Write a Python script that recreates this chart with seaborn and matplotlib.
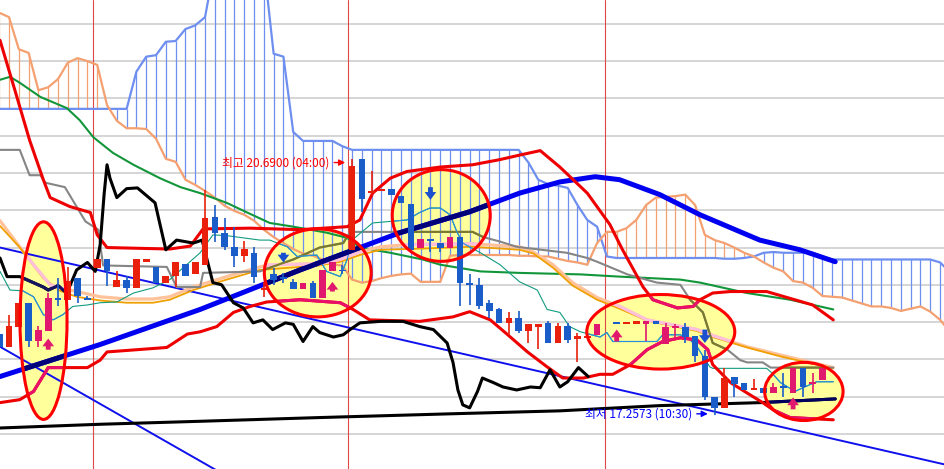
import numpy as np
import pandas as pd
import matplotlib
matplotlib.use("Agg")
import matplotlib.pyplot as plt
from matplotlib.patches import Ellipse
import seaborn as sns

sns.set_theme(style="white")
plt.rcParams['font.family'] = ['Noto Sans CJK KR', 'DejaVu Sans']

# ---- candles, bar index 0..84 ----
opens = [18.34, 18.17, 18.44, 18.75, 18.25, 18.38, 18.81, 18.80, 19.09, 18.81,
         19.22, 19.34, 18.97, 19.07, 18.96, 19.31, 19.24, 19.03, 19.12, 19.28,
         19.15, 19.27, 19.91, 19.70, 19.51, 19.38, 19.43, 18.93, 19.15, 19.09,
         19.04, 18.95, 19.03, 18.83, 19.19, 19.19, 19.47, 20.69, 20.23, 20.26,
         20.29, 20.19, 20.09, 19.50, 19.62, 19.56, 19.50, 19.64, 19.03, 19.00,
         18.76, 18.67, 18.49, 18.55, 18.38, 18.44, 18.49, 18.22, 18.45, 18.28,
         18.29, 18.33, np.nan, 18.49, 18.48, 18.48, 18.47, 18.51, 18.20, 18.42,
         18.44, 18.32, 18.05, 17.50, 17.35, 17.77, 17.69, 17.59, 17.62, 17.55,
         17.63, 17.55, 17.89, 17.67, 17.73]
highs = [18.36, 18.60, 18.75, 18.75, 18.45, 18.89, 19.09, 19.24, 19.09, 18.85,
         19.34, 19.34, 19.18, 19.12, 19.34, 19.34, 19.24, 19.12, 19.30, 19.28,
         19.30, 20.27, 20.07, 19.90, 19.78, 19.59, 19.51, 19.04, 19.22, 19.16,
         19.08, 19.03, 19.05, 19.20, 19.30, 19.27, 20.69, 20.69, 20.52, 20.27,
         20.29, 20.19, 20.09, 19.62, 19.62, 19.56, 19.64, 19.64, 19.14, 19.09,
         18.79, 18.69, 18.63, 18.65, 18.48, 18.48, 18.51, 18.49, 18.49, 18.36,
         18.32, 18.47, np.nan, 18.49, 18.49, 18.51, 18.51, 18.51, 18.49, 18.48,
         18.49, 18.32, 18.12, 17.50, 17.88, 17.77, 17.69, 17.74, 17.62, 17.69,
         17.82, 17.89, 17.89, 17.82, 17.89]
lows = [18.15, 18.17, 18.44, 18.17, 18.17, 18.38, 18.72, 18.80, 18.75, 18.80,
        19.22, 18.99, 18.97, 18.89, 18.96, 19.30, 19.03, 19.03, 18.97, 19.12,
        19.15, 19.27, 19.58, 19.47, 19.24, 19.30, 19.03, 18.84, 19.00, 19.03,
        18.95, 18.95, 18.83, 18.83, 19.19, 19.14, 19.47, 19.98, 20.21, 20.26,
        20.21, 20.10, 19.47, 19.50, 19.44, 19.44, 19.50, 18.72, 18.73, 18.67,
        18.55, 18.49, 18.33, 18.36, 18.22, 18.14, 18.22, 18.22, 18.22, 17.97,
        18.29, 18.33, np.nan, 18.48, 18.48, 18.48, 18.24, 18.47, 18.20, 18.29,
        18.22, 17.96, 17.46, 17.2573, 17.35, 17.50, 17.59, 17.59, 17.55, 17.55,
        17.49, 17.55, 17.49, 17.55, 17.73]
closes = [18.17, 18.45, 18.75, 18.25, 18.40, 18.83, 18.80, 19.05, 18.85, 18.80,
          19.34, 19.19, 19.07, 18.96, 19.34, 19.34, 19.03, 19.12, 19.30, 19.12,
          19.30, 19.90, 19.70, 19.51, 19.38, 19.48, 19.11, 18.95, 19.07, 19.08,
          18.95, 19.03, 18.83, 19.20, 19.30, 19.18, 20.60, 20.15, 20.26, 20.27,
          20.21, 20.10, 19.47, 19.62, 19.59, 19.50, 19.64, 19.03, 19.00, 18.72,
          18.65, 18.49, 18.55, 18.38, 18.48, 18.48, 18.22, 18.45, 18.26, 18.32,
          18.32, 18.47, np.nan, 18.48, 18.49, 18.51, 18.51, 18.47, 18.44, 18.44,
          18.30, 18.04, 17.49, 17.35, 17.75, 17.67, 17.59, 17.61, 17.55, 17.63,
          17.62, 17.89, 17.63, 17.70, 17.89]
# r = up, b = down, p = up inside a marked zone
kinds = list("brrbppbrbb" "rbrbrrbrrb" "rrbbbrbrbb" "bpbppbrbrr" "bbbpbbpbbb"
             "bbrbrrbrbr" "rp-brrpbpp" "bbbbrbbrbp" "bpbpp")

# ---- ichimoku cloud, one value per bar 0..97 ----
span_a = [21.36, 21.36, 21.36, 21.36, 21.36, 21.36, 21.36, 21.36, 21.36, 21.36,
          21.36, 21.36, 21.36, 21.36, 21.86, 22.06, 22.08, 22.26, 22.27, 22.43,
          22.48, 22.59, 23.30, 23.30, 23.30, 23.30, 23.30, 23.30, 22.10, 22.06,
          21.05, 20.93, 20.93, 20.93, 20.93, 20.86, 20.81, 20.81, 20.81, 20.81,
          20.81, 20.81, 20.81, 20.81, 20.81, 20.81, 20.81, 20.81, 20.81, 20.81,
          20.81, 20.81, 20.81, 20.81, 20.64, 20.41, 20.35, 20.33, 20.30, 20.07,
          19.87, 19.78, 19.38, 19.36, 19.36, 19.36, 19.36, 19.36, 19.36, 19.36,
          19.36, 19.36, 19.36, 19.36, 19.35, 19.35, 19.36, 19.38, 19.43, 19.44,
          19.43, 19.43, 19.43, 19.43, 19.38, 19.34, 19.34, 19.34, 19.34, 19.34,
          19.34, 19.34, 19.34, 19.34, 19.34, 19.34, 19.30, 19.17]
span_b = [22.65, 22.59, 22.16, 22.11, 21.61, 21.65, 21.76, 21.98, 22.04, 22.00,
          21.95, 21.41, 21.20, 21.10, 21.10, 21.09, 20.96, 20.69, 20.65, 20.41,
          20.34, 20.26, 20.17, 20.06, 19.99, 19.94, 19.86, 19.74, 19.64, 19.56,
          19.48, 19.42, 19.39, 19.34, 19.27, 19.26, 19.07, 19.03, 19.05, 19.09,
          19.12, 19.14, 19.15, 19.04, 19.04, 19.04, 19.39, 19.40, 19.40, 19.40,
          19.40, 19.40, 19.40, 19.39, 19.39, 19.38, 19.38, 19.35, 19.32, 19.30,
          19.27, 19.56, 19.71, 19.71, 19.76, 19.87, 20.07, 20.17, 20.18, 20.19,
          20.21, 20.07, 19.67, 19.60, 19.56, 19.50, 19.43, 19.38, 19.30, 19.23,
          19.18, 19.05, 19.03, 18.96, 18.85, 18.84, 18.83, 18.79, 18.75, 18.71,
          18.71, 18.69, 18.65, 18.68, 18.71, 18.64, 18.53, 18.37]

# ---- lines: (bar position, price) vertices ----
chikou_x = [0.08, 0.8, 2.1, 4.5, 5.0, 6.0, 6.9, 7.9, 9.0, 9.8, 10.3, 10.7, 11.0, 11.3, 12.0, 13.0,
            14.1, 15.9, 17.0, 18.1, 19.8, 20.7, 21.8, 22.7, 23.9, 24.9, 25.9, 26.9, 27.9, 29.2,
            30.0, 31.0, 32.0, 32.7, 34.1, 35.1, 35.8, 36.8, 38.9, 41.2, 42.9, 44.3, 45.7, 46.3,
            46.8, 47.3, 48.0, 48.8, 49.3, 50.4, 51.4, 52.8, 54.2, 55.2, 56.2, 57.2, 58.0, 59.1, 60.1]
chikou_y = [19.36, 19.11, 19.11, 18.97, 18.93, 18.99, 18.89, 19.20, 19.30, 19.18, 19.54, 20.21,
            20.61, 20.43, 20.17, 20.29, 20.30, 20.10, 19.47, 19.60, 19.56, 19.60, 19.03, 19.00,
            18.76, 18.69, 18.49, 18.53, 18.40, 18.49, 18.47, 18.24, 18.44, 18.36, 18.30, 18.33,
            18.40, 18.49, 18.51, 18.51, 18.44, 18.40, 18.22, 17.96, 17.59, 17.39, 17.35, 17.57,
            17.75, 17.69, 17.63, 17.59, 17.63, 17.62, 17.86, 17.63, 17.70, 17.89, 17.77]

long_ma_x = [0.08, 10.3, 20.5, 30.7, 40.9, 48.0, 53.1, 57.2, 60.8, 63.3, 67.4, 71.5, 77.6, 81.7, 85.3]
long_ma_y = [17.77, 18.20, 18.67, 19.20, 19.70, 19.98, 20.23, 20.38, 20.45, 20.41, 20.21, 19.94,
             19.60, 19.47, 19.31]

slow_ma_x = [0.08, 10.3, 20.5, 32.7, 46.0, 57.2, 67.4, 77.6, 85.3]
slow_ma_y = [17.08, 17.13, 17.17, 17.22, 17.27, 17.31, 17.38, 17.42, 17.47]

green_x = [0.08, 1.1, 2.1, 4.2, 6.9, 8.2, 9.6, 11.6, 13.7, 16.4, 18.5, 20.5, 23.2, 25.3, 27.6,
           30.0, 33.4, 35.5, 36.8, 39.9, 43.2, 45.0, 49.1, 53.1, 59.3, 63.3, 69.5, 71.5, 76.3,
           80.7, 85.1]
green_y = [21.75, 21.79, 21.71, 21.52, 21.37, 21.21, 20.98, 20.77, 20.61, 20.43, 20.31, 20.23,
           20.10, 19.97, 19.83, 19.78, 19.70, 19.63, 19.50, 19.43, 19.34, 19.27, 19.18, 19.16,
           19.14, 19.11, 19.07, 19.03, 18.89, 18.80, 18.67]

kijun_x = [0.08, 2.1, 3.1, 4.2, 4.7, 6.7, 8.8, 10.1, 10.6, 17.1, 18.1, 20.5, 20.8, 26.6, 27.6,
           30.0, 32.7, 35.1, 35.8, 48.3, 49.4, 51.1, 52.8, 57.9, 60.0, 61.0, 64.1, 67.1, 69.5,
           70.5, 71.8, 72.8, 74.3, 75.6, 76.3, 77.9, 78.7, 85.1]
kijun_y = [20.81, 20.81, 20.47, 20.47, 20.37, 20.31, 19.85, 19.74, 19.26, 19.24, 18.97, 18.97,
           19.16, 19.18, 19.23, 19.34, 19.50, 19.56, 19.71, 19.71, 19.64, 19.58, 19.51, 19.43,
           19.36, 19.31, 19.14, 19.03, 19.00, 18.80, 18.63, 18.22, 18.13, 17.99, 17.96, 17.96,
           17.89, 17.89]

peach_x = [0.08, 1.8, 3.5, 5.2, 6.2, 7.9, 10.3, 13.0, 15.7, 17.4, 19.8, 23.2, 26.6, 27.6, 32.7,
           34.8, 36.8, 38.9, 41.6, 48.3, 53.1, 54.5, 56.5, 58.5, 61.0, 63.3, 66.1, 71.2, 72.8,
           76.3, 79.7, 85.1]
peach_y = [19.86, 19.56, 19.27, 19.00, 18.96, 18.91, 18.84, 18.81, 18.81, 18.84, 18.97, 19.11,
           19.24, 19.27, 19.28, 19.34, 19.44, 19.51, 19.54, 19.55, 19.51, 19.44, 19.27, 19.03,
           18.83, 18.71, 18.53, 18.40, 18.32, 18.17, 18.06, 17.89]

orange_x = [0.08, 2.1, 4.5, 6.2, 7.9, 10.3, 13.0, 15.7, 17.4, 19.8, 23.2, 26.6, 32.7, 34.8, 36.8,
            38.9, 41.6, 48.3, 53.1, 54.5, 56.5, 58.5, 61.0, 63.3, 66.1, 71.2, 72.8, 76.3, 79.7, 85.1]
orange_y = [19.79, 19.50, 19.09, 18.92, 18.84, 18.79, 18.76, 18.76, 18.80, 18.93, 19.07, 19.20,
            19.26, 19.31, 19.40, 19.47, 19.48, 19.51, 19.47, 19.42, 19.23, 18.99, 18.80, 18.68,
            18.52, 18.38, 18.30, 18.16, 18.04, 17.88]

tenkan_x = [0.08, 1.1, 2.4, 3.5, 4.5, 5.5, 6.5, 7.5, 9.0, 10.3, 12.0, 13.7, 15.7, 17.4, 20.5,
            21.8, 23.2, 26.6, 27.6, 29.4, 30.4, 32.4, 33.4, 34.8, 35.5, 36.0, 38.1, 41.6, 42.9,
            43.96, 45.0, 46.0, 46.7, 47.3, 49.1, 51.1, 53.1, 54.9, 55.9, 57.2, 58.2, 59.3, 61.3,
            62.0, 62.6, 67.1, 67.7, 69.5, 70.5, 71.2, 72.5, 72.8, 78.3, 78.9, 79.7, 81.2, 82.0,
            83.4, 85.1]
tenkan_y = [19.18, 18.93, 18.92, 18.84, 18.60, 18.53, 18.60, 18.71, 18.73, 18.76, 18.77, 18.89,
            18.96, 19.07, 19.43, 19.67, 19.66, 19.60, 19.60, 19.51, 19.38, 19.40, 19.18, 19.11,
            19.34, 19.60, 19.83, 19.87, 19.97, 20.03, 20.03, 19.94, 19.71, 19.56, 19.43, 19.27,
            19.04, 18.93, 18.67, 18.63, 18.44, 18.37, 18.30, 18.36, 18.24, 18.24, 18.33, 18.33,
            18.26, 18.17, 17.90, 17.88, 17.88, 17.81, 17.69, 17.57, 17.62, 17.70, 17.70]

upper_x = [0.08, 1.6, 3.1, 4.5, 5.2, 7.2, 9.3, 10.0, 11.0, 17.4, 19.5, 20.8, 25.6, 30.7, 35.5,
           36.8, 38.1, 39.9, 41.6, 45.0, 48.3, 51.1, 53.1, 55.2, 57.2, 60.0, 62.3, 63.6, 65.7,
           66.7, 69.2, 70.8, 71.5, 72.8, 74.6, 78.3, 83.0, 85.1]
upper_y = [22.28, 21.61, 20.94, 20.41, 20.17, 20.05, 19.97, 19.67, 19.50, 19.48, 19.52, 19.75,
           19.76, 19.74, 19.78, 19.87, 20.23, 20.43, 20.52, 20.58, 20.61, 20.68, 20.74, 20.80,
           20.58, 20.23, 19.81, 19.47, 18.97, 18.80, 18.69, 18.71, 18.80, 18.89, 18.91, 18.91,
           18.73, 18.53]

lower_x = [0.08, 2.1, 3.5, 5.0, 9.0, 10.3, 11.0, 17.1, 19.2, 20.5, 22.2, 23.9, 25.6, 27.3, 30.7,
           34.8, 36.1, 37.8, 42.9, 46.3, 48.0, 50.1, 51.8, 53.9, 55.9, 57.5, 59.6, 61.3, 62.6,
           64.4, 66.1, 67.7, 69.5, 71.2, 72.3, 72.8, 74.6, 76.3, 77.9, 79.0, 80.7, 85.1]
lower_y = [17.42, 17.46, 17.57, 17.89, 17.89, 17.99, 18.10, 18.16, 18.34, 18.37, 18.44, 18.63,
           18.71, 18.77, 18.80, 18.76, 18.67, 18.53, 18.51, 18.57, 18.64, 18.53, 18.34, 18.10,
           17.90, 17.75, 17.75, 17.80, 17.80, 17.93, 18.13, 18.24, 18.29, 18.26, 18.13, 17.93,
           17.69, 17.55, 17.42, 17.32, 17.22, 17.19]

trend1_x = [0.08, 96.5]
trend1_y = [19.50, 16.59]
trend2_x = [0.08, 24.2]
trend2_y = [18.17, 16.36]

grid_levels = [22.5, 22.0, 21.5, 21.0, 20.5, 20.0, 19.5, 19.0, 18.5, 18.0, 17.5, 17.0]
day_breaks = [9.6, 35.6, 61.8]

# marked zones
zone_x = [4.52, 32.5, 45.1, 67.5, 82.1]
zone_y = [18.52, 19.16, 19.93, 18.37, 17.57]
zone_w = [4.8, 10.9, 10.0, 15.1, 8.0]
zone_h = [2.65, 1.18, 1.23, 1.00, 0.78]

# signal arrows
sig_x = [5, 29, 34, 44, 63, 72, 81]
sig_from = [18.13, 19.43, 18.91, 20.31, 18.24, 18.40, 17.33]
sig_to = [18.28, 19.30, 19.04, 20.14, 18.40, 18.22, 17.49]

high_label = "최고 20.6900 (04:00)"
low_label = "최저 17.2573 (10:30)"

RED, BLUE, PINK = "#e8200c", "#1a5cc8", "#e0186e"

fig = plt.figure(figsize=(9.45, 4.69), dpi=100)
ax = fig.add_axes([0, 0, 1, 1])
ax.set_xlim(0.08, 96.5)
ax.set_ylim(16.53, 22.82)
for s in ax.spines.values():
    s.set_visible(False)
ax.set_yticks(grid_levels)
ax.set_xticks([])
ax.tick_params(left=False, labelleft=False, bottom=False, labelbottom=False)
ax.yaxis.grid(True, color="#d2d2d2", lw=1.3)
ax.set_axisbelow(True)

# yellow zones
zones = []
for cx, cy, w, h in zip(zone_x, zone_y, zone_w, zone_h):
    e = Ellipse((cx, cy), w, h, facecolor="#ffff9c", edgecolor="none", zorder=1)
    ax.add_patch(e)
    zones.append(e)

for d in day_breaks:
    ax.axvline(d, color="#e04848", lw=0.8, zorder=1.5)

# cloud
a = np.array(span_a)
b = np.array(span_b)
bars = np.arange(len(a))
up = a >= b
ax.vlines(bars[up], b[up], a[up], color="#6e8ff0", lw=0.9, zorder=2)
ax.vlines(bars[~up], a[~up], b[~up], color="#f4a070", lw=0.9, zorder=2)
sns.lineplot(x=bars, y=a, color="#6e8ff0", lw=1.6, ax=ax, zorder=2.5, sort=False, estimator=None)
sns.lineplot(x=bars, y=b, color="#f4a070", lw=1.6, ax=ax, zorder=2.5, sort=False, estimator=None)


def line(xs, ys, color, lw, inside=None, z=3):
    sns.lineplot(x=xs, y=ys, color=color, lw=lw, ax=ax, zorder=z, sort=False, estimator=None)
    if inside:
        for e in zones:
            ln, = ax.plot(xs, ys, color=inside, lw=lw, zorder=z + 0.05)
            ln.set_clip_path(e)


line(trend1_x, trend1_y, "#1010ee", 1.4)
line(trend2_x, trend2_y, "#1010ee", 1.4)
line(green_x, green_y, "#12963a", 1.5)
line(peach_x, peach_y, "#ffc29a", 2.3, inside="#ffc0dc")
line(orange_x, orange_y, "#f0a000", 1.3)
line(kijun_x, kijun_y, "#858585", 1.5, inside="#7a7a2e")
line(tenkan_x, tenkan_y, "#139c80", 0.8, inside="#2a8fe0")
line(slow_ma_x, slow_ma_y, "#000000", 2.2, inside="#000060")
line(long_ma_x, long_ma_y, "#0000f0", 3.6, inside="#00007a")
line(upper_x, upper_y, "#ee0000", 2.2, inside="#e8106a")
line(lower_x, lower_y, "#ee0000", 2.2, inside="#e8106a")
line(chikou_x, chikou_y, "#000000", 2.2, inside="#141460")

# candles
df = pd.DataFrame({"open": opens, "high": highs, "low": lows, "close": closes, "kind": kinds})
df["bar"] = np.arange(len(df))
df = df.dropna()
colors = df["kind"].map({"r": RED, "b": BLUE, "p": PINK})
bottom = np.minimum(df["open"], df["close"])
height = np.maximum((df["close"] - df["open"]).abs(), 0.025)
ax.vlines(df["bar"], df["low"], df["high"], colors=colors, lw=1.2, zorder=4)
ax.bar(df["bar"], height, bottom=bottom, width=0.68, color=colors, lw=0, zorder=4.1)

# zone outlines
for cx, cy, w, h in zip(zone_x, zone_y, zone_w, zone_h):
    ax.add_patch(Ellipse((cx, cy), w, h, facecolor="none", edgecolor="#ff0000", lw=2.2, zorder=5))

# signal arrows
for x, y0, y1 in zip(sig_x, sig_from, sig_to):
    col = PINK if y1 > y0 else "#1a4fd0"
    ax.annotate("", xy=(x, y1), xytext=(x, y0),
                arrowprops=dict(arrowstyle="simple,head_length=0.8,head_width=1.2,tail_width=0.5",
                                fc=col, ec=col, lw=0, mutation_scale=7, shrinkA=0, shrinkB=0),
                zorder=6)

# high / low labels
ax.annotate(high_label, xy=(35.3, 20.64), xytext=(33.7, 20.64), ha="right", va="center",
            color="#ff0000", fontsize=8.5, zorder=6,
            arrowprops=dict(arrowstyle="-|>", color="#ff0000", lw=1, mutation_scale=9,
                            shrinkA=1, shrinkB=0))
ax.annotate(low_label, xy=(72.3, 17.27), xytext=(70.7, 17.27), ha="right", va="center",
            color="#0000ff", fontsize=8.5, zorder=6,
            arrowprops=dict(arrowstyle="-|>", color="#0000ff", lw=1, mutation_scale=9,
                            shrinkA=1, shrinkB=0))

fig.savefig("out.png", dpi=100)
